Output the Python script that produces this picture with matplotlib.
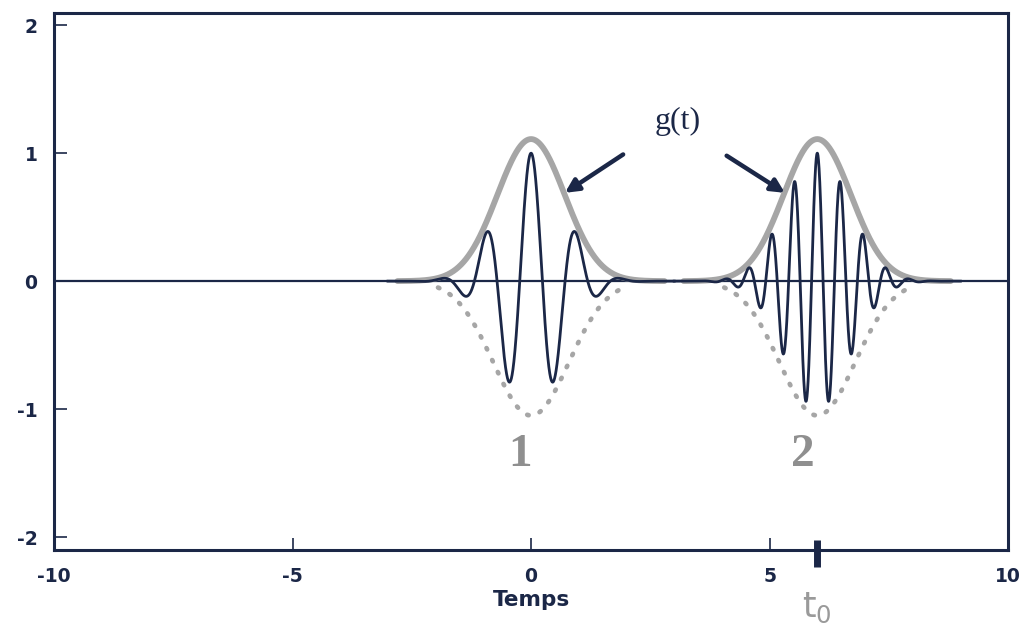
import numpy as np
import matplotlib.pyplot as plt
import matplotlib.transforms as mtransforms

plt.rcParams['axes.unicode_minus'] = False

# Paramètres
centres = [0.0, 6.0]          # positions des deux atomes (t0 = 6)
periodes = [0.95, 0.48]       # période de la porteuse de chaque atome
etiquettes = ['1', '2']
amort = 1.1                   # exp(-amort * t^2) pour la porteuse
env_hauteur = 1.11            # sommet de la fenêtre g(t) en gris
env_amort = 1.0
pointille_bas = -1.05         # bas de l'enveloppe pointillée
pointille_amort = 0.8
t0 = 6.0

xticks = [-10, -5, 0, 5, 10]
yticks = [-2, -1, 0, 1, 2]

navy = '#1b2747'
gris = '#a6a6a6'

fig = plt.figure(figsize=(10.27, 6.27), dpi=100)
ax = fig.add_axes([0.0526, 0.123, 0.929, 0.856])

t = np.linspace(-10, 10, 8001)

# ligne de zéro
ax.axhline(0, color=navy, lw=1.6, zorder=1)

for c, p in zip(centres, periodes):
    u = t - c
    # fenêtre g(t) en gris épais
    m = np.abs(u) <= 2.8
    ax.plot(t[m], env_hauteur * np.exp(-env_amort * u[m] ** 2),
            color=gris, lw=4.2, solid_capstyle='round', zorder=2)
    # enveloppe inférieure en pointillés
    m2 = np.abs(u) <= 1.95
    ax.plot(t[m2], pointille_bas * np.exp(-pointille_amort * u[m2] ** 2),
            color=gris, lw=3.4, linestyle=(0, (0.3, 2.5)),
            dash_capstyle='round', zorder=2)
    # atome oscillant
    m3 = np.abs(u) <= 3.0
    ax.plot(t[m3], np.exp(-amort * u[m3] ** 2) * np.cos(2 * np.pi * u[m3] / p),
            color=navy, lw=2.0, zorder=3)

# numéros des atomes
ax.text(-0.23, -1.36, etiquettes[0], ha='center', va='center', fontsize=34,
        fontweight='bold', family='Liberation Serif', color='#8f8f8f')
ax.text(5.7, -1.36, etiquettes[1], ha='center', va='center', fontsize=34,
        fontweight='bold', family='Liberation Serif', color='#8f8f8f')

# g(t) et flèches
ax.text(3.07, 1.25, 'g(t)', ha='center', va='center', fontsize=23,
        family='Liberation Serif', color=navy)
ax.annotate('', xy=(0.71, 0.69), xytext=(1.93, 0.99),
            arrowprops=dict(arrowstyle='-|>,head_length=0.8,head_width=0.4',
                            color=navy, lw=3.2, shrinkA=0, shrinkB=0))
ax.annotate('', xy=(5.32, 0.69), xytext=(4.1, 0.98),
            arrowprops=dict(arrowstyle='-|>,head_length=0.8,head_width=0.4',
                            color=navy, lw=3.2, shrinkA=0, shrinkB=0))

ax.set_xlim(-10, 10)
ax.set_ylim(-2.1, 2.094)
ax.set_xticks(xticks)
ax.set_yticks(yticks)
ax.tick_params(direction='in', length=9, width=1.2, color=navy, pad=12,
               labelsize=13.5, labelcolor=navy)
for lab in ax.get_xticklabels() + ax.get_yticklabels():
    lab.set_fontweight('bold')
    lab.set_family('DejaVu Sans')
for s in ax.spines.values():
    s.set_color(navy)
    s.set_linewidth(2.2)

# repère t0 sur l'axe des temps
trans = mtransforms.blended_transform_factory(ax.transData, ax.transAxes)
ax.plot([t0, t0], [-0.032, 0.019], transform=trans, color=navy, lw=5,
        solid_capstyle='butt', clip_on=False, zorder=5)
ax.text(t0, -0.108, r'$\mathregular{t_0}$', transform=trans, ha='center',
        va='center', fontsize=25, color='#9a9a9a')

ax.set_xlabel('Temps', fontsize=15.5, fontweight='bold', color=navy,
              family='DejaVu Sans', labelpad=3)

fig.savefig('out.png', dpi=100)
